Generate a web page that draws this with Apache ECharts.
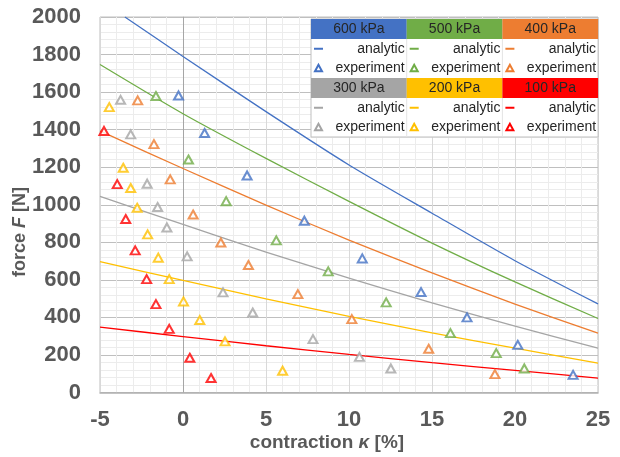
<!DOCTYPE html>
<html>
<head>
<meta charset="utf-8">
<style>html,body{margin:0;padding:0;background:#fff}#c{width:620px;height:457px}</style>
<script src="https://cdn.jsdelivr.net/npm/echarts@6/dist/echarts.min.js"></script>
</head>
<body>
<div id="c"></div>
<script>
// ---- data ----
const pressures = ['600 kPa', '500 kPa', '400 kPa', '300 kPa', '200 kPa', '100 kPa'];
const colors = ['#4472C4', '#70AD47', '#ED7D31', '#A5A5A5', '#FFC000', '#FF0000'];
const xTicks = [-5, 0, 5, 10, 15, 20, 25];
const yTicks = [0, 200, 400, 600, 800, 1000, 1200, 1400, 1600, 1800, 2000];

// analytic curves [contraction %, force N]
const analytic600 = [[-3.5, 2000], [0, 1790], [5, 1496], [10, 1212], [15, 955], [20, 702], [25, 472]];
const analytic500 = [[-5, 1747], [0, 1485], [5, 1247], [10, 1018], [15, 796], [20, 589], [25, 394]];
const analytic400 = [[-5, 1393], [0, 1193], [5, 998], [10, 812], [15, 637], [20, 471], [25, 316]];
const analytic300 = [[-5, 1045], [0, 895], [5, 748], [10, 609], [15, 478], [20, 353], [25, 236]];
const analytic200 = [[-5, 697], [0, 597], [5, 499], [10, 406], [15, 318], [20, 236], [25, 157]];
const analytic100 = [[-5, 348], [0, 298], [5, 249], [10, 203], [15, 159], [20, 118], [25, 77]];

// experiment points [contraction %, force N]
const exp600 = [[-0.27, 1582], [1.30, 1382], [3.86, 1156], [7.31, 915], [10.80, 714], [14.34, 535], [17.11, 400], [20.17, 254], [23.50, 94]];
const exp500 = [[-1.63, 1579], [0.33, 1241], [2.60, 1019], [5.62, 810], [8.75, 645], [12.24, 480], [16.11, 316], [18.87, 210], [20.56, 128]];
const exp400 = [[-2.73, 1556], [-1.75, 1323], [-0.77, 1135], [0.61, 948], [2.28, 799], [3.94, 679], [6.92, 524], [10.17, 391], [14.80, 233], [18.79, 98]];
const exp300 = [[-3.76, 1559], [-3.15, 1375], [-2.16, 1112], [-1.53, 988], [-0.97, 879], [0.25, 725], [2.41, 533], [4.20, 426], [7.83, 284], [10.63, 190], [12.52, 128]];
const exp200 = [[-4.44, 1520], [-3.60, 1197], [-3.15, 1089], [-2.76, 984], [-2.13, 842], [-1.49, 718], [-0.83, 604], [0.03, 485], [1.01, 386], [2.53, 272], [6.00, 116]];
const exp100 = [[-4.76, 1393], [-3.96, 1110], [-3.45, 924], [-2.88, 757], [-2.19, 604], [-1.63, 471], [-0.83, 339], [0.41, 185], [1.69, 77]];

const analytic = [analytic600, analytic500, analytic400, analytic300, analytic200, analytic100];
const experiment = [exp600, exp500, exp400, exp300, exp200, exp100];

// ---- chart ----
const FONT = 'Liberation Sans, Arial, sans-serif';
const TXT = '#595959';
const chart = echarts.init(document.getElementById('c'), null, {renderer: 'canvas'});

const series = [];
analytic.forEach((d, i) => {
  const s = {
    type: 'line', name: pressures[i] + ' analytic', data: d, smooth: 0.25,
    showSymbol: false, symbol: 'none', silent: true, clip: true, z: 3,
    lineStyle: {color: colors[i], width: 1.3}
  };
  if (i === 0) {
    s.markLine = {
      silent: true, symbol: 'none', label: {show: false},
      lineStyle: {color: '#a6a6a6', width: 1, type: 'solid'},
      data: [{xAxis: 0}], z: 1
    };
  }
  series.push(s);
});
experiment.forEach((d, i) => {
  series.push({
    type: 'scatter', name: pressures[i] + ' experiment', data: d,
    symbol: 'triangle', symbolSize: [9, 8], z: 4,
    itemStyle: {color: '#ffffff', borderColor: colors[i], borderWidth: 2}
  });
});

// legend table drawn as graphic
const L = {left: 311, top: 19, colW: 95.7, rowH: [20, 19.5, 19.5, 20, 19.5, 19.5]};
const gfx = [];
const rowTop = [];
let acc = L.top;
L.rowH.forEach(h => { rowTop.push(acc); acc += h; });
const legendH = acc - L.top;
gfx.push({type: 'rect', shape: {x: L.left, y: L.top, width: L.colW * 3, height: legendH},
  style: {fill: '#ffffff', stroke: '#bfbfbf', lineWidth: 1}, z: 100});
for (let c = 1; c < 3; c++) {
  gfx.push({type: 'line', shape: {x1: L.left + c * L.colW, y1: L.top, x2: L.left + c * L.colW, y2: L.top + legendH},
    style: {stroke: '#e4e4e4', lineWidth: 1}, z: 101});
}
pressures.forEach((p, i) => {
  const col = i % 3, blk = Math.floor(i / 3);
  const x0 = L.left + col * L.colW;
  const rH = rowTop[blk * 3], rA = rowTop[blk * 3 + 1], rE = rowTop[blk * 3 + 2];
  gfx.push({type: 'rect', shape: {x: x0, y: rH, width: L.colW, height: L.rowH[blk * 3]},
    style: {fill: colors[i]}, z: 102});
  gfx.push({type: 'text', x: x0 + L.colW / 2, y: rH + L.rowH[blk * 3] / 2 + 0.5,
    style: {text: p, fill: '#262626', font: '14px ' + FONT, align: 'center', verticalAlign: 'middle'}, z: 103});
  const yA = rA + L.rowH[blk * 3 + 1] / 2, yE = rE + L.rowH[blk * 3 + 2] / 2;
  gfx.push({type: 'line', shape: {x1: x0 + 3, y1: yA, x2: x0 + 12, y2: yA},
    style: {stroke: colors[i], lineWidth: 2}, z: 103});
  gfx.push({type: 'text', x: x0 + L.colW - 2, y: yA,
    style: {text: 'analytic', fill: '#262626', font: '14px ' + FONT, align: 'right', verticalAlign: 'middle'}, z: 103});
  gfx.push({type: 'polygon', shape: {points: [[x0 + 7.5, yE - 3.5], [x0 + 4, yE + 3], [x0 + 11, yE + 3]]},
    style: {fill: '#ffffff', stroke: colors[i], lineWidth: 2}, z: 103});
  gfx.push({type: 'text', x: x0 + L.colW - 2, y: yE,
    style: {text: 'experiment', fill: '#262626', font: '14px ' + FONT, align: 'right', verticalAlign: 'middle'}, z: 103});
});
// axis titles
gfx.push({type: 'text', x: 20, y: 232, rotation: Math.PI / 2,
  style: {text: 'force {i|F} [N]', fill: TXT, font: 'bold 18px ' + FONT, align: 'center', verticalAlign: 'middle',
    rich: {i: {fontStyle: 'italic', fontWeight: 'bold', fontSize: 18, fontFamily: FONT, fill: TXT}}}, z: 50});
gfx.push({type: 'text', x: 327, y: 443,
  style: {text: 'contraction {i|κ} [%]', fill: TXT, font: 'bold 19px ' + FONT, align: 'center', verticalAlign: 'middle',
    rich: {i: {fontStyle: 'italic', fontWeight: 'bold', fontSize: 19, fontFamily: FONT, fill: TXT}}}, z: 50});

chart.setOption({
  animation: false,
  backgroundColor: '#ffffff',
  grid: {left: 100, top: 17, width: 498, height: 375.5, show: true, borderColor: '#bfbfbf', borderWidth: 1, backgroundColor: 'transparent'},
  xAxis: {
    type: 'value', min: xTicks[0], max: xTicks[xTicks.length - 1], interval: 5,
    axisLine: {show: true, onZero: false, lineStyle: {color: '#b0b0b0', width: 1.5}},
    axisTick: {show: false},
    axisLabel: {color: TXT, fontFamily: FONT, fontWeight: 'bold', fontSize: 22, margin: 16,
      formatter: v => xTicks.includes(v) ? String(v) : ''},
    splitLine: {show: true, lineStyle: {color: '#d9d9d9', width: 1}},
    minorTick: {show: false, splitNumber: 5},
    minorSplitLine: {show: true, lineStyle: {color: '#ececec', width: 1}}
  },
  yAxis: {
    type: 'value', min: yTicks[0], max: yTicks[yTicks.length - 1], interval: 200,
    axisLine: {show: true, lineStyle: {color: '#bfbfbf'}},
    axisTick: {show: false},
    axisLabel: {color: TXT, fontFamily: FONT, fontWeight: 'bold', fontSize: 22, margin: 19,
      formatter: v => yTicks.includes(v) ? String(v) : ''},
    splitLine: {show: true, lineStyle: {color: '#bfbfbf', width: 1}},
    minorTick: {show: false, splitNumber: 5},
    minorSplitLine: {show: true, lineStyle: {color: '#ececec', width: 1}}
  },
  graphic: gfx,
  series: series
});
</script>
</body>
</html>
